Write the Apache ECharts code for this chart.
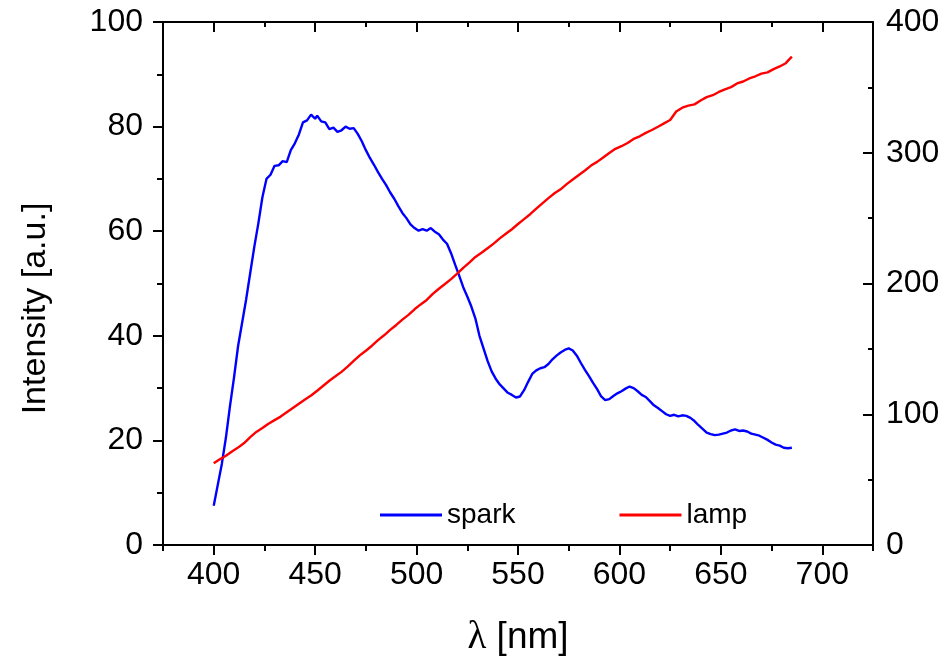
<!DOCTYPE html>
<html>
<head>
<meta charset="utf-8">
<script src="https://cdn.jsdelivr.net/npm/echarts@6/dist/echarts.min.js"></script>
<style>html,body{margin:0;padding:0;background:#fff}#c{width:947px;height:664px}</style>
</head>
<body>
<div id="c"></div>
<script>
const sparkX = [400,402,404,406,408,410,412,414,416,418,420,422,424,426,428,430,432,434,436,438,440,442,444,446,448,450,451,453,455,457,459,461,463,465,467,469,471,473,475,477,479,481,483,485,487,489,491,493,495,497,499,501,503,505,507,509,511,513,515,517,519,521,523,525,527,529,531,533,535,537,539,541,543,545,547,549,551,553,555,557,559,561,563,565,567,569,571,573,575,577,579,581,583,585,587,589,591,593,595,597,599,601,603,605,607,609,611,613,615,617,619,621,623,625,627,629,631,633,635,637,639,641,643,645,647,649,651,653,655,657,659,661,663,665,667,669,671,673,675,677,679,681,683,685];
const sparkY = [7.5,11.5,15.5,20.5,26.5,32,38,42.5,47,52,57,61.5,66.5,70,70.8,72.5,72.6,73.4,73.2,75.5,76.8,78.5,80.8,81.2,82.3,81.5,82.1,81.0,80.8,79.5,79.8,79.0,79.3,80.0,79.6,79.7,78.6,77.2,75.5,74.0,72.7,71.3,70.0,68.8,67.4,66.2,64.8,63.5,62.5,61.3,60.6,60.1,60.4,60.1,60.6,59.9,59.4,58.4,57.6,55.8,53.6,51.5,49.3,47.5,45.6,43.3,40.0,37.6,35.2,33.2,31.8,30.7,29.9,29.1,28.7,28.2,28.4,29.6,31.2,32.7,33.4,33.8,34.0,34.6,35.5,36.2,36.8,37.3,37.6,37.2,36.2,34.8,33.5,32.3,31.0,29.8,28.4,27.7,27.9,28.5,29.0,29.4,29.9,30.3,30.0,29.4,28.7,28.3,27.5,26.7,26.2,25.6,25.0,24.7,24.9,24.6,24.8,24.7,24.3,23.7,22.9,22.2,21.5,21.2,21.0,21.1,21.3,21.5,21.9,22.1,21.8,21.9,21.7,21.3,21.1,20.9,20.5,20.1,19.6,19.2,19.0,18.6,18.5,18.6];
const lampX = [400,403,406,409,412,415,418,421,424,427,430,433,436,439,442,445,448,451,454,457,460,463,466,469,472,475,478,481,484,487,490,493,496,499,502,505,508,511,514,517,520,523,526,529,532,535,538,541,544,547,550,553,556,559,562,565,568,571,574,577,580,583,586,589,592,595,598,601,604,607,610,613,616,619,622,625,628,631,634,637,640,643,646,649,652,655,658,661,664,667,670,673,676,679,682,685];
const lampY = [62.5,65.5,68.2,71.5,74.5,78.0,82.5,86.5,89.5,92.8,95.5,98.2,101.5,104.8,108.0,111.2,114.3,118.0,121.8,125.6,129.0,132.4,136.5,140.8,145.0,148.6,152.4,156.7,160.4,164.5,168.3,172.4,176.0,180.3,184.0,187.4,192.0,196.0,199.6,203.3,207.5,212.0,216.0,220.3,223.5,227.0,230.5,234.5,238.0,241.5,245.5,249.2,253.0,257.2,261.3,265.3,269.0,272.0,276.0,279.5,283.0,286.4,290.2,293.0,296.4,299.8,303.0,305.0,307.5,310.6,312.6,315.2,317.4,319.9,322.5,325.0,331.5,334.5,336.0,337.0,340.0,342.5,344.0,346.5,348.5,350.2,353.0,354.5,356.8,358.5,360.5,361.5,364.0,366.0,368.5,373.5];
const xMajorTicks = [400,450,500,550,600,650,700];
const xMinorTicks = [375,425,475,525,575,625,675,725];
const seriesNames = ['spark','lamp'];

const FF = "'Liberation Sans', Arial, sans-serif";
const blk = '#000';
const lineSt = {color: blk, width: 2};
const xBase = {type: 'value', min: 375, max: 725, splitLine: {show: false}};

const chart = echarts.init(document.getElementById('c'));
chart.setOption({
  animation: false,
  backgroundColor: '#fff',
  grid: {left: 163, right: 74, top: 22, bottom: 119, containLabel: false},
  legend: {
    data: seriesNames.map(n => ({name: n, icon: 'rect'})),
    left: 375, top: 496,
    itemWidth: 62, itemHeight: 3, itemGap: 104,
    textStyle: {fontFamily: FF, fontSize: 28, color: blk}
  },
  xAxis: [
    Object.assign({}, xBase, {
      position: 'bottom',
      axisLine: {show: true, lineStyle: lineSt},
      axisTick: {show: true, customValues: xMajorTicks, length: 10, inside: false, lineStyle: lineSt},
      axisLabel: {show: true, customValues: xMajorTicks, fontFamily: FF, fontSize: 32, color: blk, margin: 14},
      name: '{l|λ} [nm]', nameLocation: 'middle', nameGap: 73,
      nameTextStyle: {fontFamily: FF, fontSize: 37, color: blk,
        rich: {l: {fontFamily: "'Liberation Serif', 'DejaVu Serif', serif", fontSize: 39, color: blk}}}
    }),
    Object.assign({}, xBase, {
      position: 'bottom',
      axisLine: {show: false},
      axisTick: {show: true, customValues: xMinorTicks, length: 6, inside: false, lineStyle: lineSt},
      axisLabel: {show: false}
    }),
    Object.assign({}, xBase, {
      position: 'top',
      axisLine: {show: true, lineStyle: lineSt},
      axisTick: {show: true, customValues: xMajorTicks, length: 10, inside: true, lineStyle: lineSt},
      axisLabel: {show: false}
    }),
    Object.assign({}, xBase, {
      position: 'top',
      axisLine: {show: false},
      axisTick: {show: true, customValues: xMinorTicks, length: 5, inside: true, lineStyle: lineSt},
      axisLabel: {show: false}
    })
  ],
  yAxis: [
    {
      type: 'value', min: 0, max: 100, interval: 20, position: 'left',
      splitLine: {show: false},
      axisLine: {show: true, lineStyle: lineSt},
      axisTick: {show: true, length: 10, inside: false, lineStyle: lineSt},
      minorTick: {show: true, splitNumber: 2, length: 6, lineStyle: lineSt},
      axisLabel: {fontFamily: FF, fontSize: 32, color: blk, margin: 20},
      name: 'Intensity [a.u.]', nameLocation: 'middle', nameGap: 110,
      nameTextStyle: {fontFamily: FF, fontSize: 34, color: blk, padding: [0, 50, 0, 0]}
    },
    {
      type: 'value', min: 0, max: 400, interval: 100, position: 'right',
      splitLine: {show: false},
      axisLine: {show: true, lineStyle: lineSt},
      axisTick: {show: true, length: 10, inside: true, lineStyle: lineSt},
      minorTick: {show: true, splitNumber: 2, length: 5, lineStyle: lineSt},
      axisLabel: {fontFamily: FF, fontSize: 32, color: blk, margin: 13}
    }
  ],
  series: [
    {
      name: seriesNames[0], type: 'line', xAxisIndex: 0, yAxisIndex: 0,
      data: sparkX.map((x, i) => [x, sparkY[i]]),
      symbol: 'none', color: '#0000ff',
      lineStyle: {color: '#0000ff', width: 2.4}
    },
    {
      name: seriesNames[1], type: 'line', xAxisIndex: 0, yAxisIndex: 1,
      data: lampX.map((x, i) => [x, lampY[i]]),
      symbol: 'none', color: '#ff0000',
      lineStyle: {color: '#ff0000', width: 2.4}
    }
  ]
});
</script>
</body>
</html>
